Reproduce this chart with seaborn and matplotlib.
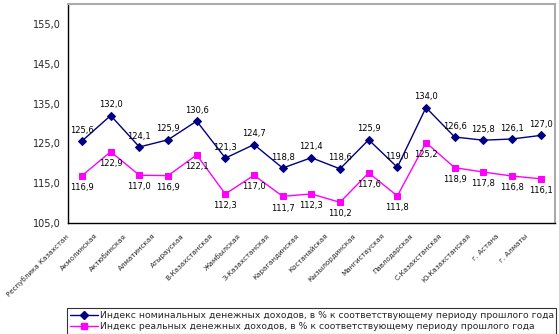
import matplotlib
matplotlib.use("Agg")
import matplotlib.pyplot as plt
import seaborn as sns
import pandas as pd
import numpy as np
from matplotlib.lines import Line2D

regions = ["Республика Казахстан", "Акмолинская", "Актюбинская", "Алматинская",
           "Атырауская", "В-Казахстанская", "Жамбылская", "З-Казахстанская",
           "Карагандинская", "Костанайская", "Кызылординская", "Мангистауская",
           "Павлодарская", "С-Казахстанская", "Ю-Казахстанская", "г. Астана", "г. Алматы"]
nominal = [125.6, 132.0, 124.1, 125.9, 130.6, 121.3, 124.7, 118.8, 121.4, 118.6,
           125.9, 119.0, 134.0, 126.6, 125.8, 126.1, 127.0]
real = [116.9, 122.9, 117.0, 116.9, 122.1, 112.3, 117.0, 111.7, 112.3, 110.2,
        117.6, 111.8, 125.2, 118.9, 117.8, 116.8, 116.1]
series_names = ["Индекс номинальных денежных доходов, в % к соответствующему периоду прошлого года",
                "Индекс реальных денежных доходов, в % к соответствующему периоду прошлого года"]
yticks = [105, 115, 125, 135, 145, 155]

colors = ["#000080", "#FF00FF"]
markers = ["D", "s"]

df = pd.DataFrame({
    "region": regions * 2,
    "value": nominal + real,
    "series": [series_names[0]] * len(regions) + [series_names[1]] * len(regions),
})

sns.set_style("white")
plt.rcParams["font.family"] = ["DejaVu Sans"]

fig = plt.figure(figsize=(5.59, 3.34), dpi=100)
ax = fig.add_axes([0.1211, 0.3323, 0.8717, 0.6557])

sns.pointplot(data=df, x="region", y="value", hue="series", order=regions,
              hue_order=series_names, palette=colors, markers=markers,
              linestyles=["-", "-"], ax=ax, legend=False, markersize=4,
              linewidth=1.0, errorbar=None)

for l in ax.lines:
    l.set_markersize(4.5)

n = len(regions)
for i, v in enumerate(nominal):
    ax.text(i, v + 1.6, f"{v:.1f}".replace(".", ","), ha="center", va="bottom",
            fontsize=6, color="black")
for i, v in enumerate(real):
    ax.text(i, v - 1.8, f"{v:.1f}".replace(".", ","), ha="center", va="top",
            fontsize=6, color="black")

ax.set_xlim(-0.5, n - 0.5)
ax.set_ylim(105, 160)
ax.set_yticks(yticks)
ax.set_yticklabels([f"{t:.1f}".replace(".", ",") for t in yticks], fontsize=7)
ax.set_xticks(np.arange(n) - 0.4)
ax.set_xticklabels(regions, rotation=45, ha="right", fontsize=5.1)
ax.set_xticks(np.arange(-0.5, n, 1.0), minor=True)
ax.tick_params(axis="x", which="major", length=0, pad=7)
ax.tick_params(axis="x", which="minor", length=3, width=0.8, color="black", direction="out")
ax.tick_params(axis="y", which="major", length=3, width=0.8, color="black", direction="out", pad=2)
ax.set_xlabel("")
ax.set_ylabel("")

for s in ["left", "bottom"]:
    ax.spines[s].set_color("black")
    ax.spines[s].set_linewidth(1.0)
for s in ["top", "right"]:
    ax.spines[s].set_color("#aaaaaa")
    ax.spines[s].set_linewidth(1.5)

handles = [Line2D([0], [0], color=colors[0], marker="D", markersize=4, lw=1),
           Line2D([0], [0], color=colors[1], marker="s", markersize=5, lw=1)]
leg = fig.legend(handles, series_names, loc="lower left",
                 bbox_to_anchor=(67 / 559, 0.0, 489 / 559, 0.1), mode="expand",
                 fontsize=6.7, frameon=True, fancybox=False, edgecolor="black",
                 handlelength=3.0, handletextpad=0.3, borderpad=0.3,
                 labelspacing=0.25, borderaxespad=0.0)
leg.get_frame().set_linewidth(0.8)

fig.savefig("out.png", dpi=100)
